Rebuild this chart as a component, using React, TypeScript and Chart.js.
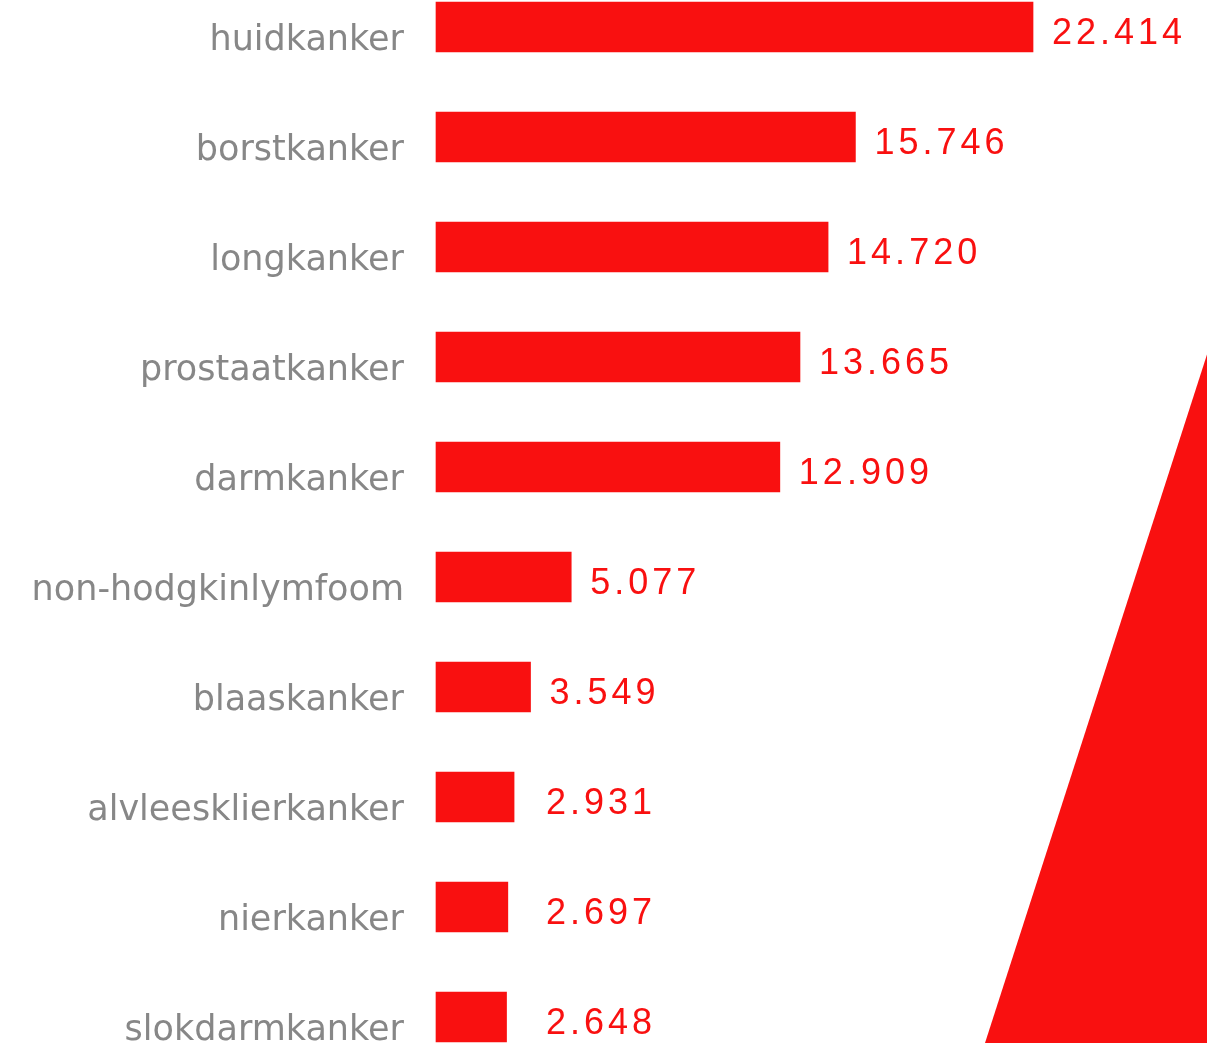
import React, { useEffect, useRef } from "react";
import { Chart, registerables } from "chart.js";

Chart.register(...registerables);

const categories = [
  "huidkanker",
  "borstkanker",
  "longkanker",
  "prostaatkanker",
  "darmkanker",
  "non-hodgkinlymfoom",
  "blaaskanker",
  "alvleesklierkanker",
  "nierkanker",
  "slokdarmkanker",
];

const values = [22414, 15746, 14720, 13665, 12909, 5077, 3549, 2931, 2697, 2648];

const RED = "#F91010";
const GRAY = "#878787";

function formatNL(v: number): string {
  const s = Math.round(v).toString();
  return s.replace(/\B(?=(\d{3})+(?!\d))/g, ".");
}

const valueLabelPlugin = {
  id: "valueLabels",
  afterDatasetsDraw(chart: any) {
    const ctx = chart.ctx;
    const meta = chart.getDatasetMeta(0);
    const minX = chart.chartArea.left + 110;
    ctx.save();
    ctx.fillStyle = RED;
    ctx.font = "36px 'Liberation Sans', Arial, sans-serif";
    (ctx as any).letterSpacing = "4px";
    ctx.textAlign = "left";
    ctx.textBaseline = "alphabetic";
    meta.data.forEach((bar: any, i: number) => {
      const x = Math.max(bar.x + 19, minX);
      ctx.fillText(formatNL(values[i]), x, bar.y + 17);
    });
    ctx.restore();
  },
};

const trianglePlugin = {
  id: "decoTriangle",
  beforeDraw(chart: any) {
    const ctx = chart.ctx;
    const w = chart.width;
    const h = chart.height;
    ctx.save();
    ctx.fillStyle = RED;
    ctx.beginPath();
    ctx.moveTo(w, h * 0.34);
    ctx.lineTo(w, h);
    ctx.lineTo(w - 222, h);
    ctx.closePath();
    ctx.fill();
    ctx.restore();
  },
};

export default function App() {
  const ref = useRef<HTMLCanvasElement | null>(null);

  useEffect(() => {
    if (!ref.current) return;
    const chart = new Chart(ref.current, {
      type: "bar",
      data: {
        labels: categories,
        datasets: [
          {
            data: values,
            backgroundColor: RED,
            borderWidth: 0,
            barThickness: 50,
            clip: false as any,
          },
        ],
      },
      options: {
        indexAxis: "y",
        animation: false,
        responsive: false,
        maintainAspectRatio: false,
        layout: { padding: { top: 27, bottom: 26, right: 105.1, left: 0 } },
        plugins: {
          legend: { display: false },
          tooltip: { enabled: false },
        },
        scales: {
          x: {
            display: false,
            min: 0,
            max: 25000,
          },
          y: {
            offset: false,
            grid: { display: false, drawTicks: false },
            border: { display: false },
            ticks: {
              color: GRAY,
              padding: 32,
              labelOffset: 14,
              font: { family: "'DejaVu Sans', sans-serif", size: 35 },
            },
            afterFit(scale: any) {
              scale.width = 436;
              scale.paddingTop = 0;
              scale.paddingBottom = 0;
            },
          },
        },
      },
      plugins: [trianglePlugin, valueLabelPlugin],
    });
    return () => chart.destroy();
  }, []);

  return (
    <div style={{ position: "fixed", left: 0, top: 0, width: 1207, height: 1043, background: "#fff" }}>
      <canvas ref={ref} width={1207} height={1043} style={{ width: 1207, height: 1043 }} />
    </div>
  );
}
